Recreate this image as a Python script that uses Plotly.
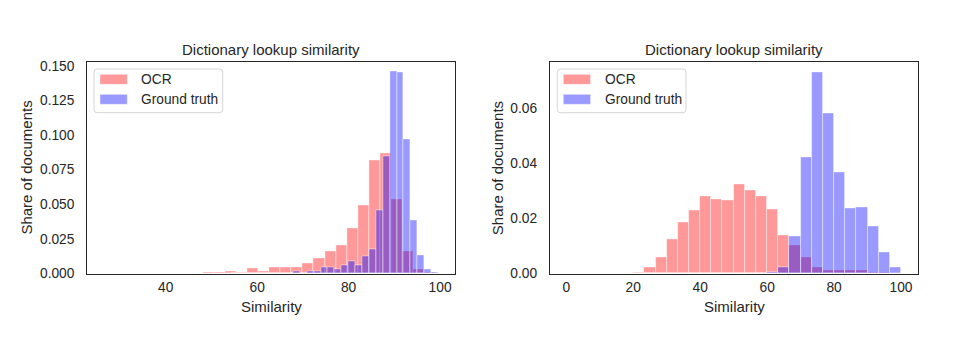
import numpy as np
import plotly.graph_objects as go

# ---------------- data (density histograms) ----------------
# Left panel
left_ocr_start, left_ocr_width = 26.6, 2.41
left_ocr = [0.0002, 0, 0, 0, 0, 0, 0, 0.0005, 0.0005, 0.0012, 0.0012, 0.0019, 0.0010,
            0.0041, 0.0019, 0.0042, 0.0048, 0.0048, 0.0074, 0.0112, 0.0157, 0.0203,
            0.0324, 0.0494, 0.0816, 0.0869, 0.0537, 0.0157, 0.0031, 0.0012]
left_gt_start, left_gt_width = 54.3, 1.51
left_gt = [0, 0, 0, 0, 0, 0, 0, 0, 0, 0.0017, 0, 0.0015, 0.0015, 0.0043, 0.0048, 0.0031,
           0.0062, 0.0087, 0.0056, 0.0125, 0.0173, 0.0456, 0.0847, 0.1460, 0.1452,
           0.0968, 0.0387, 0.0133, 0.0029, 0.0010]

# Right panel
right_start, right_width = 0.0, 100.0 / 30
right_ocr = [0, 0, 0, 0, 0, 0, 0.0005, 0.0021, 0.0058, 0.0124, 0.0185, 0.0228, 0.0278,
             0.0269, 0.0264, 0.0322, 0.0300, 0.0278, 0.0234, 0.0140, 0.0101, 0.0058,
             0.0024, 0.0010, 0.0010, 0.0010, 0.0013, 0.0006, 0.0003, 0]
right_gt = [0, 0, 0, 0, 0, 0, 0, 0, 0, 0, 0, 0, 0, 0, 0, 0, 0, 0, 0.0006, 0.0023,
            0.0135, 0.0420, 0.0730, 0.0580, 0.0365, 0.0236, 0.0239, 0.0171, 0.0075, 0.0021]

left_xticks = [40, 60, 80, 100]
right_xticks = [0, 20, 40, 60, 80, 100]
left_yticks = [0, 0.025, 0.05, 0.075, 0.1, 0.125, 0.15]
right_yticks = [0, 0.02, 0.04, 0.06]

title_text = "Dictionary lookup similarity"
xlabel = "Similarity"
ylabel = "Share of documents"
series_names = ["OCR", "Ground truth"]

# ---------------- styling ----------------
W, H = 970, 350
FONT = "Liberation Sans, Arial, sans-serif"
TXT = "#262626"
RED = "rgba(255,0,0,0.4)"
BLUE = "rgba(0,0,255,0.4)"
EDGE = "rgba(255,255,255,0.55)"
COLORS = [RED, BLUE]

def centers(start, width, n):
    return start + width * (np.arange(n) + 0.5)

fig = go.Figure()

def add_hist(start, width, vals, name, color, xa, ya):
    fig.add_trace(go.Bar(
        x=centers(start, width, len(vals)), y=vals, width=width,
        name=name, marker=dict(color=color, line=dict(color=EDGE, width=0.8)),
        xaxis=xa, yaxis=ya, showlegend=False, hoverinfo="x+y"))

add_hist(left_ocr_start, left_ocr_width, left_ocr, series_names[0], RED, "x", "y")
add_hist(left_gt_start, left_gt_width, left_gt, series_names[1], BLUE, "x", "y")
add_hist(right_start, right_width, right_ocr, series_names[0], RED, "x2", "y2")
add_hist(right_start, right_width, right_gt, series_names[1], BLUE, "x2", "y2")

# axes geometry (pixels)
lx0, lx1 = 87.3, 455.3
rx0, rx1 = 550.0, 918.0
ytop, ybot = 62.3, 273.5
ydom = [1 - ybot / H, 1 - ytop / H]

axis_common = dict(showline=True, mirror=True, linecolor=TXT, linewidth=1.25,
                   showgrid=False, zeroline=False, ticks="", automargin=False,
                   tickfont=dict(family=FONT, size=13.75, color=TXT))

fig.update_layout(
    width=W, height=H, margin=dict(l=0, r=0, t=0, b=0, pad=0), autosize=False,
    paper_bgcolor="white", plot_bgcolor="white",
    barmode="overlay", bargap=0, showlegend=False,
    font=dict(family=FONT, color=TXT),
    xaxis=dict(domain=[lx0 / W, lx1 / W], range=[22.87, 103.33], tickvals=left_xticks,
               anchor="y", ticklabelstandoff=1, **axis_common),
    yaxis=dict(domain=ydom, range=[0, 0.1525], tickvals=left_yticks, tickformat=".3f",
               anchor="x", ticklabelstandoff=9, **axis_common),
    xaxis2=dict(domain=[rx0 / W, rx1 / W], range=[-4.87, 105.08], tickvals=right_xticks,
                anchor="y2", ticklabelstandoff=1, **axis_common),
    yaxis2=dict(domain=ydom, range=[0, 0.0765], tickvals=right_yticks, tickformat=".2f",
                anchor="x2", ticklabelstandoff=9, **axis_common),
)

def px(x):
    return x / W

def py(y):
    return 1 - y / H

def rounded_box(x0, y0, x1, y1, r=3):
    # path in paper coordinates, pixel inputs
    rx, ry = r / W, r / H
    X0, X1, Y0, Y1 = px(x0), px(x1), py(y0), py(y1)  # Y0 top, Y1 bottom
    return (f"M{X0+rx},{Y0} L{X1-rx},{Y0} Q{X1},{Y0} {X1},{Y0-ry} "
            f"L{X1},{Y1+ry} Q{X1},{Y1} {X1-rx},{Y1} L{X0+rx},{Y1} "
            f"Q{X0},{Y1} {X0},{Y1+ry} L{X0},{Y0-ry} Q{X0},{Y0} {X0+rx},{Y0} Z")

ann, shapes = [], []
for (x0, x1, ylx, leg_x0, leg_x1) in [(lx0, lx1, 26.7, 94.0, 222.7),
                                       (rx0, rx1, 498.3, 557.3, 686.0)]:
    cx = (x0 + x1) / 2 / W
    ann.append(dict(text=title_text, x=cx, y=py(50), xref="paper", yref="paper",
                    xanchor="center", yanchor="middle", showarrow=False,
                    font=dict(family=FONT, size=15, color=TXT)))
    ann.append(dict(text=xlabel, x=cx, y=py(306), xref="paper", yref="paper",
                    xanchor="center", yanchor="middle", showarrow=False,
                    font=dict(family=FONT, size=15, color=TXT)))
    ann.append(dict(text=ylabel, x=px(ylx), y=py((ytop + ybot) / 2), xref="paper",
                    yref="paper", xanchor="center", yanchor="middle", showarrow=False,
                    textangle=-90, font=dict(family=FONT, size=15, color=TXT)))
    # legend frame
    shapes.append(dict(type="path", xref="paper", yref="paper",
                       path=rounded_box(leg_x0, 69.0, leg_x1, 112.7, 3),
                       fillcolor="rgba(255,255,255,0.8)",
                       line=dict(color="#d6d6d6", width=1), layer="above"))
    for i, (name, col) in enumerate(zip(series_names, COLORS)):
        cy = 79.3 + 20 * i
        shapes.append(dict(type="rect", xref="paper", yref="paper",
                           x0=px(leg_x0 + 6), x1=px(leg_x0 + 33.3),
                           y0=py(cy - 5), y1=py(cy + 5),
                           fillcolor=col, line=dict(color=EDGE, width=0.8), layer="above"))
        ann.append(dict(text=name, x=px(leg_x0 + 45.3), y=py(cy), xref="paper",
                        yref="paper", xanchor="left", yanchor="middle", showarrow=False,
                        font=dict(family=FONT, size=13.75, color=TXT)))
fig.update_layout(annotations=ann, shapes=shapes)

fig.write_html("out.html")
